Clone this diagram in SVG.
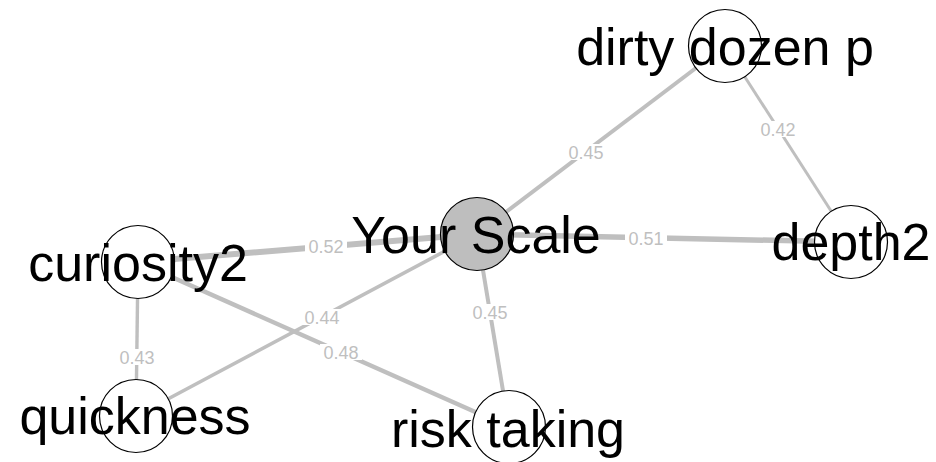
<svg xmlns="http://www.w3.org/2000/svg" width="936" height="462" viewBox="0 0 936 462">
<style>
.e{stroke:#BFBFBF;fill:none;stroke-linecap:butt}
.lb{fill:#FFFFFF;stroke:none}
.lt{font-family:"Liberation Sans",Arial,sans-serif;font-size:18px;fill:#BFBFBF;text-anchor:middle}
.n{fill:#FFFFFF;stroke:#000000;stroke-width:1.2}
.nt{font-family:"Liberation Sans",Arial,sans-serif;font-size:52px;fill:#000000;text-anchor:middle}
</style>
<rect width="936" height="462" fill="#FFFFFF"/>
<g id="edges">
<line class="e" x1="477" y1="234" x2="138" y2="262" stroke-width="6"/>
<line class="e" x1="477" y1="234" x2="851" y2="242" stroke-width="5.5"/>
<line class="e" x1="477" y1="234" x2="725" y2="46" stroke-width="4"/>
<line class="e" x1="725" y1="46" x2="851" y2="242" stroke-width="3"/>
<line class="e" x1="477" y1="234" x2="136" y2="416" stroke-width="3.6"/>
<line class="e" x1="138" y1="262" x2="509" y2="427" stroke-width="4.5"/>
<line class="e" x1="138" y1="262" x2="136" y2="416" stroke-width="3.4"/>
<line class="e" x1="477" y1="234" x2="509" y2="427" stroke-width="4"/>
<rect class="lb" x="305" y="238" width="42" height="16"/>
<text class="lt" x="326" y="253">0.52</text>
<rect class="lb" x="625" y="230" width="42" height="16"/>
<text class="lt" x="646" y="245">0.51</text>
<rect class="lb" x="565" y="144" width="42" height="16"/>
<text class="lt" x="586" y="159">0.45</text>
<rect class="lb" x="757" y="121" width="42" height="16"/>
<text class="lt" x="778" y="136">0.42</text>
<rect class="lb" x="301" y="309" width="42" height="16"/>
<text class="lt" x="322" y="324">0.44</text>
<rect class="lb" x="320" y="344" width="42" height="16"/>
<text class="lt" x="341" y="359">0.48</text>
<rect class="lb" x="116" y="349" width="42" height="16"/>
<text class="lt" x="137" y="364">0.43</text>
<rect class="lb" x="469" y="304" width="42" height="16"/>
<text class="lt" x="490" y="319">0.45</text>
</g>
<g id="node-your-scale">
<circle class="n" cx="477" cy="234" r="36.5" style="fill:#BEBEBE"/>
<text class="nt" x="476" y="253">Your Scale</text>
</g>
<g id="node-curiosity2">
<circle class="n" cx="138" cy="262" r="36.5"/>
<text class="nt" x="138" y="281">curiosity2</text>
</g>
<g id="node-quickness">
<circle class="n" cx="136" cy="416" r="36.5"/>
<text class="nt" x="135" y="434">quickness</text>
</g>
<g id="node-dirty-dozen-p">
<circle class="n" cx="725" cy="46" r="36.5"/>
<text class="nt" x="725" y="65">dirty dozen p</text>
</g>
<g id="node-depth2">
<circle class="n" cx="851" cy="242" r="36.5"/>
<text class="nt" x="851" y="260">depth2</text>
</g>
<g id="node-risk-taking">
<circle class="n" cx="509" cy="427" r="36.5"/>
<text class="nt" x="508" y="447">risk taking</text>
</g>
</svg>
